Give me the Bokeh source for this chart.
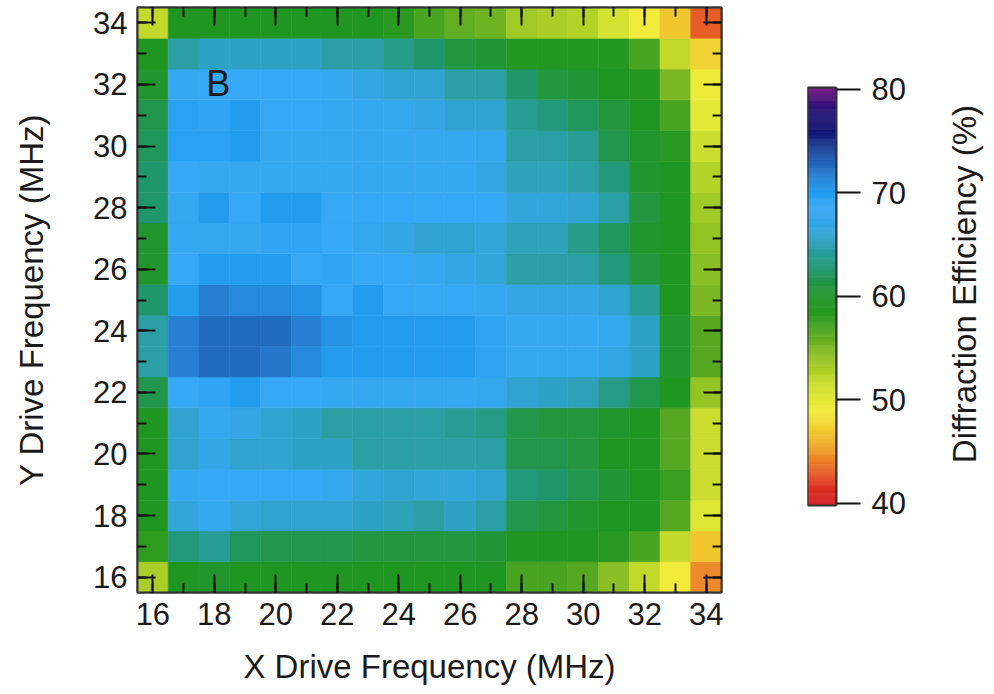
import numpy as np
from bokeh.plotting import figure
from bokeh.layouts import row
from bokeh.models import (FixedTicker, LinearAxis, ColumnDataSource, LinearColorMapper, Label,
                          CustomLabelingPolicy)
from bokeh.transform import transform
from bokeh.embed import file_html
from bokeh.resources import INLINE

# ---------------- data ----------------
x_freq = list(range(16, 35))          # X drive frequency (MHz)
y_freq = list(range(16, 35))          # Y drive frequency (MHz)

# diffraction efficiency (%) per row, x = 16..34
eff_y34 = [52, 59.5, 59.5, 59.5, 59.5, 59.5, 59.5, 59.5, 58.5, 57, 56, 55.5, 53.5, 53, 52.5, 51, 49, 47, 43]
eff_y33 = [59.5, 64.5, 65.5, 65.5, 65.5, 65.5, 64.5, 64.5, 63.5, 62.5, 61, 60.5, 59, 59, 59, 59, 57, 52, 47.5]
eff_y32 = [60, 68, 68.5, 68.5, 68.5, 68.5, 68, 67, 66, 66, 64.5, 64.5, 62.5, 61, 60.5, 59.5, 59, 55, 49.5]
eff_y31 = [61.5, 69.5, 69, 70, 68.5, 68.5, 68, 68, 67.5, 67, 66, 66, 64, 63, 62, 61, 59.5, 57, 50]
eff_y30 = [62, 69.5, 69.5, 70, 68, 68, 68, 68, 68, 68, 68, 67.5, 64.5, 64.5, 64, 61.5, 60, 58.5, 51.5]
eff_y29 = [62.5, 68.5, 68, 68, 68, 68, 68, 68, 68, 68, 68, 67, 65, 65, 64.5, 63, 60, 59.5, 52.5]
eff_y28 = [62.5, 68, 70, 68.5, 70, 70, 68.5, 68.5, 68.5, 68.5, 68.5, 68.5, 66.5, 66.5, 66, 64.5, 61, 59.5, 53.5]
eff_y27 = [60, 68, 68, 68, 69, 69, 68.5, 68, 67, 66, 66, 66.5, 65, 65, 63.5, 62, 60, 59.5, 54]
eff_y26 = [60, 68.5, 70, 70, 70, 68.5, 69, 68.5, 68.5, 68, 67, 66.5, 64.5, 64.5, 64.5, 63, 61, 59.5, 54.5]
eff_y25 = [62.5, 70, 71.5, 71, 71, 70.5, 68.5, 70, 68.5, 68.5, 68.5, 68, 67, 67, 67, 66, 64, 59.5, 55]
eff_y24 = [64.5, 71.5, 72.5, 72.5, 72.5, 71.5, 70.5, 70, 70, 70, 70, 69, 68, 68, 68, 67.5, 65.5, 60, 56.5]
eff_y23 = [64.5, 71.5, 72.5, 72.5, 72, 71, 70, 70, 70, 70, 70, 69, 68, 68, 68, 67, 65.5, 60, 56.5]
eff_y22 = [61.5, 68.5, 69, 70, 68.5, 68.5, 68, 68, 68, 68, 68, 67.5, 66, 65.5, 65, 63.5, 61.5, 59.5, 54]
eff_y21 = [59.5, 66, 67.5, 67, 66, 65.5, 64.5, 64.5, 64.5, 64.5, 64, 63.5, 61.5, 61, 61, 60, 59.5, 56.5, 51.5]
eff_y20 = [59.5, 66, 67, 66, 66, 65.5, 65.5, 64.5, 64.5, 64.5, 64.5, 64.5, 61.5, 61.5, 61, 59.5, 59.5, 56.5, 51.5]
eff_y19 = [59.5, 68, 68.5, 68.5, 68.5, 68.5, 67.5, 66.5, 66, 66.5, 66.5, 66, 63, 62.5, 61.5, 60.5, 59.5, 57.5, 51.5]
eff_y18 = [59.5, 66.5, 68, 66.5, 66, 66, 66, 65.5, 65, 64.5, 65.5, 64.5, 61.5, 61, 60, 59.5, 59.5, 56.5, 50.5]
eff_y17 = [58, 63, 64, 62, 61.5, 61.5, 61.5, 61, 61, 61, 61, 60.5, 59.5, 59.5, 59.5, 58.5, 57, 52, 47]
eff_y16 = [53, 59.5, 60, 59.5, 59.5, 59.5, 59.5, 59.5, 59.5, 59.5, 59.5, 59.5, 57, 57, 56.5, 54.5, 52, 49, 44.5]

rows_bottom_up = [eff_y16, eff_y17, eff_y18, eff_y19, eff_y20, eff_y21, eff_y22, eff_y23, eff_y24,
                  eff_y25, eff_y26, eff_y27, eff_y28, eff_y29, eff_y30, eff_y31, eff_y32, eff_y33, eff_y34]

major_ticks = [16, 18, 20, 22, 24, 26, 28, 30, 32, 34]
minor_ticks = list(range(15, 36))
cbar_ticks = [40, 50, 60, 70, 80]
cbar_low, cbar_high = 40, 80

# ---------------- colour scale (rainbow, 40..80 %) ----------------
anchor_v = [40.0, 41.5, 43.0, 44.5, 46.0, 47.5, 49.0, 50.5, 52.0, 53.5, 55.0, 56.5, 58.0, 59.5,
            61.0, 62.5, 64.0, 65.5, 67.0, 68.5, 70.0, 71.5, 73.0, 74.5, 76.0, 78.0, 80.0]
anchor_rgb = [(210, 30, 35), (222, 50, 35), (230, 95, 38), (237, 140, 42), (240, 178, 42),
              (242, 212, 50), (242, 236, 60), (222, 230, 52), (192, 216, 42), (160, 202, 38),
              (125, 185, 36), (85, 168, 34), (45, 155, 32), (32, 150, 34), (35, 150, 62),
              (30, 150, 105), (40, 157, 150), (45, 162, 195), (52, 166, 230), (55, 168, 245),
              (35, 158, 240), (38, 128, 212), (32, 100, 185), (25, 60, 145), (18, 22, 115),
              (40, 20, 118), (110, 20, 128)]


def rgb_hex(v):
    r = np.interp(v, anchor_v, [a[0] for a in anchor_rgb])
    g = np.interp(v, anchor_v, [a[1] for a in anchor_rgb])
    b = np.interp(v, anchor_v, [a[2] for a in anchor_rgb])
    return "#%02x%02x%02x" % (int(round(r)), int(round(g)), int(round(b)))


palette = [rgb_hex(v) for v in np.linspace(cbar_low, cbar_high, 256)]
mapper = LinearColorMapper(palette=palette, low=cbar_low, high=cbar_high)

xs, ys, vs = [], [], []
for j, yv in enumerate(y_freq):
    for i, xv in enumerate(x_freq):
        xs.append(xv)
        ys.append(yv)
        vs.append(rows_bottom_up[j][i])
src = ColumnDataSource(dict(x=xs, y=ys, v=vs))

FONT = "Liberation Sans"
TXT = "#1a1a1a"
FS = "31px"
FS_TITLE = "33px"
no_labels = CustomLabelingPolicy(code="""
const all = Array.from(indices)
for (const i of all) { indices.unset(i) }
return indices
""")

# ---------------- main heat map ----------------
p = figure(frame_width=584, frame_height=585, x_range=(15.5, 34.5), y_range=(15.5, 34.5),
           output_backend="svg", toolbar_location=None,
           min_border_left=137, min_border_right=39, min_border_top=7, min_border_bottom=102,
           background_fill_color="white", border_fill_color="white")
p.grid.visible = False
p.outline_line_color = "#333333"
p.outline_line_width = 2

p.rect(x="x", y="y", width=1, height=1, source=src,
       fill_color=transform("v", mapper), line_color=transform("v", mapper), line_width=0.6)

p.add_layout(LinearAxis(), "above")
p.add_layout(LinearAxis(), "right")

for ax in p.axis:
    ax.ticker = FixedTicker(ticks=major_ticks, minor_ticks=minor_ticks)
    ax.major_tick_in = 18
    ax.major_tick_out = 0
    ax.minor_tick_in = 9
    ax.minor_tick_out = 0
    ax.major_tick_line_width = 2
    ax.minor_tick_line_width = 2
    ax.major_tick_line_color = "#111111"
    ax.minor_tick_line_color = "#111111"
    ax.axis_line_width = 2
    ax.axis_line_color = "#333333"
    ax.major_label_text_font = FONT
    ax.major_label_text_font_size = FS
    ax.major_label_text_color = TXT
    ax.axis_label_text_font = FONT
    ax.axis_label_text_font_size = FS_TITLE
    ax.axis_label_text_font_style = "normal"
    ax.axis_label_text_color = TXT
    ax.major_label_standoff = 10

for ax in (p.above[0], p.right[0]):
    ax.major_label_policy = no_labels
    ax.major_label_text_font_size = "0px"
    ax.major_label_standoff = 0

p.below[0].axis_label = "X Drive Frequency (MHz)"
p.below[0].axis_label_standoff = 20
p.left[0].axis_label = "Y Drive Frequency (MHz)"
p.left[0].axis_label_standoff = 40

p.add_layout(Label(x=17.74, y=32.03, text="B", text_font=FONT, text_font_size="36px",
                   text_color=TXT, text_baseline="alphabetic"))

# ---------------- colour bar ----------------
bar_bottom, bar_top = 39.8, 80.2
cb_range = (31.4, 87.92)
cb = figure(frame_width=29, frame_height=585, x_range=(0, 1), y_range=cb_range,
            output_backend="svg", toolbar_location=None, x_axis_location=None,
            y_axis_location="right",
            min_border_left=47, min_border_right=98, min_border_top=7, min_border_bottom=102,
            background_fill_color="white", border_fill_color="white")
cb.grid.visible = False
cb.outline_line_color = None

edges = np.linspace(bar_bottom, bar_top, 405)
mids = (edges[:-1] + edges[1:]) / 2
band_cols = [rgb_hex(min(max(m, cbar_low), cbar_high)) for m in mids]
cb.quad(left=0, right=1, bottom=edges[:-1], top=edges[1:], fill_color=band_cols, line_color=band_cols,
        line_width=0.6)
cb.quad(left=0, right=1, bottom=bar_bottom, top=bar_top, fill_color=None, line_color="#333333",
        line_width=2)

cax = cb.yaxis[0]
cax.bounds = (bar_bottom, bar_top)
cax.ticker = FixedTicker(ticks=cbar_ticks, minor_ticks=[])
cax.major_tick_out = 24
cax.major_tick_in = 0
cax.minor_tick_out = 0
cax.minor_tick_in = 0
cax.major_tick_line_width = 2
cax.major_tick_line_color = "#111111"
cax.axis_line_width = 2
cax.axis_line_color = "#333333"
cax.major_label_text_font = FONT
cax.major_label_text_font_size = FS
cax.major_label_text_color = TXT
cax.major_label_standoff = 11

# ---------------- colour bar title ----------------
tf = figure(frame_width=60, frame_height=585, x_range=(0, 1), y_range=cb_range,
            output_backend="svg", toolbar_location=None, x_axis_location=None, y_axis_location=None,
            min_border_left=0, min_border_right=0, min_border_top=7, min_border_bottom=102,
            background_fill_color="white", border_fill_color="white")
tf.grid.visible = False
tf.outline_line_color = None
tf.add_layout(Label(x=0.5, y=61.2, text="Diffraction Efficiency (%)", angle=90, angle_units="deg",
                    text_align="center", text_baseline="middle", text_font=FONT,
                    text_font_size=FS_TITLE, text_color=TXT))

layout = row(p, cb, tf)
open("out.html", "w").write(file_html(layout, INLINE))
